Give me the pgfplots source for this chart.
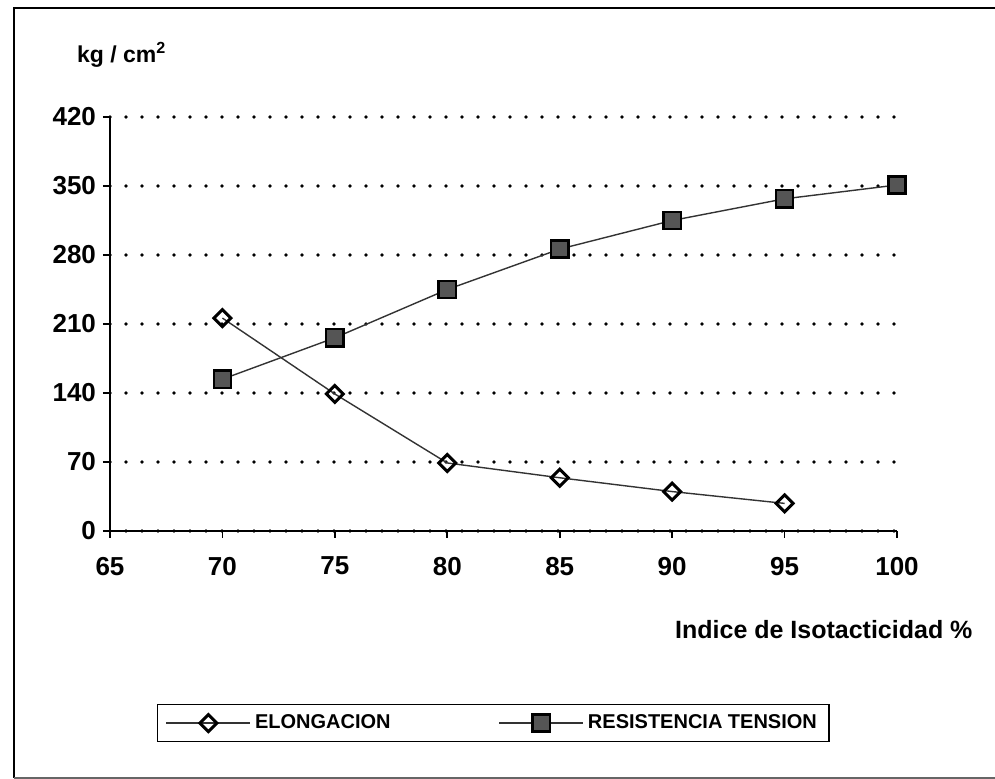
\documentclass[border=0pt]{standalone}
\usepackage{pgfplots}
\pgfplotsset{compat=1.18}
\usepackage{fontspec}
\setmainfont{Liberation Sans}
\definecolor{markgray}{RGB}{85,85,85}
\begin{document}
\begin{tikzpicture}[x=1pt,y=1pt]
\path[use as bounding box] (-55,-124) rectangle (442.5,265.5);
\draw[line width=1.4pt] (-48,-123.5) -- (-48,261.5) -- (442.5,261.5);
\draw[line width=0.6pt, black!60] (-48,-123.5) -- (442.5,-123.5);
\begin{axis}[
  at={(0,0)}, anchor=south west,
  scale only axis, width=393.5pt, height=207pt,
  xmin=65, xmax=100, ymin=0, ymax=420,
  xtick={65,70,...,100}, ytick={0,70,...,420},
  axis x line=bottom, axis y line=left,
  axis line style={-, line width=0.9pt},
  tick align=outside, major tick length=3.5pt,
  tick style={black, line width=0.8pt},
  ymajorgrids,
  grid style={black, line width=1.9pt, dash pattern=on 0pt off 8pt, line cap=round},
  /pgf/number format/assume math mode=true,
  ticklabel style={font=\bfseries\fontsize{13}{15}\selectfont},
  xticklabel style={yshift=-6pt},
  xlabel={Indice de Isotacticidad \%},
  xlabel style={at={(axis description cs:0.907,-0.239)}, anchor=center, font=\bfseries\fontsize{12.5}{15}\selectfont},
  ylabel={kg / cm\textsuperscript{2}},
  ylabel style={at={(axis description cs:0.015,1.15)}, anchor=center, rotate=-90, font=\bfseries\fontsize{11.5}{14}\selectfont},
  legend columns=2,
  legend style={at={(axis description cs:0.487,-0.464)}, anchor=center,
    draw=black, line width=0.8pt, inner xsep=4pt, inner ysep=3pt,
    font=\bfseries\fontsize{10}{12}\selectfont,
    /tikz/every even column/.append style={column sep=52pt}},
  legend image code/.code={%
    \draw[mark repeat=2, mark phase=2, #1] plot coordinates {(0pt,0pt) (21pt,0pt) (42pt,0pt)};},
]
\addplot[black!80, line width=0.7pt, mark=square, mark size=3pt,
  mark options={rotate=45, fill=white, draw=black, line width=1.5pt, solid}]
  coordinates {(70,216) (75,139) (80,69) (85,54) (90,40) (95,28)};
\addlegendentry{ELONGACION}
\addplot[black!80, line width=0.7pt, mark=square*, mark size=4.3pt,
  mark options={fill=markgray, draw=black, line width=1.2pt, solid}]
  coordinates {(70,154) (75,196) (80,245) (85,286) (90,315) (95,337) (100,351)};
\addlegendentry{RESISTENCIA TENSION}
\end{axis}
\end{tikzpicture}
\end{document}
